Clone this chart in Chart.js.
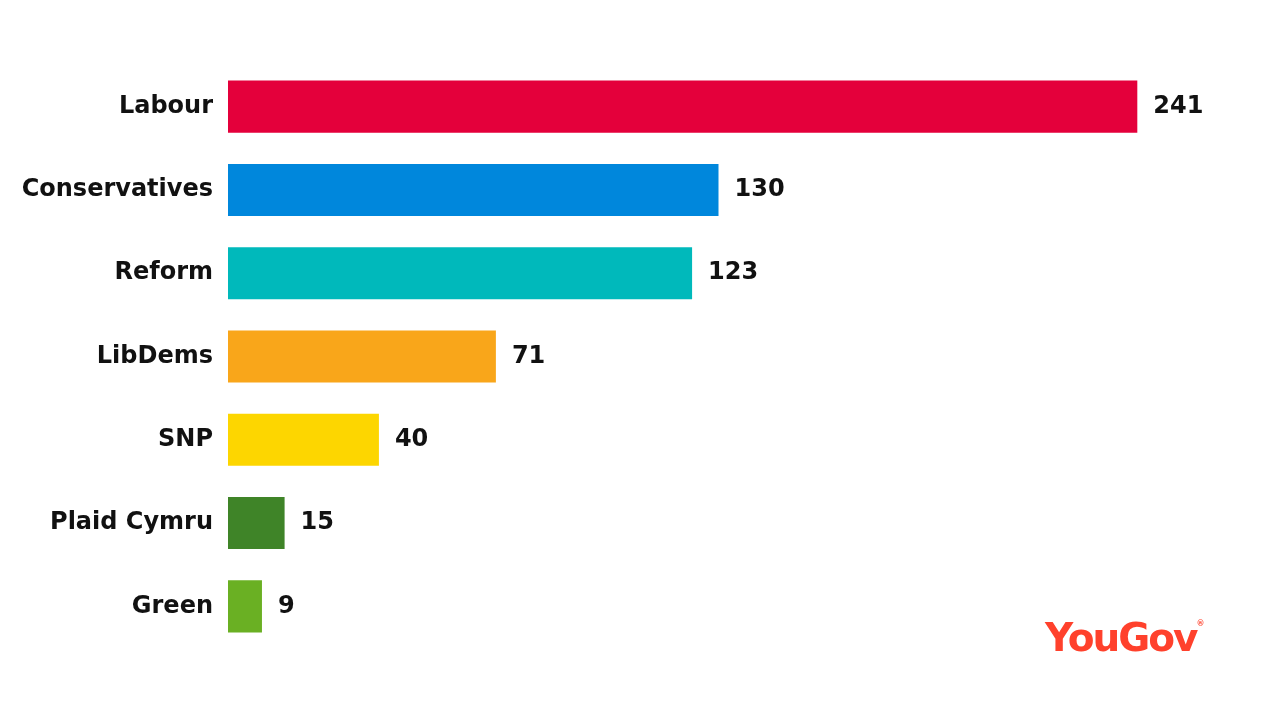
<!DOCTYPE html>
<html>
<head>
<meta charset="utf-8">
<script src="https://cdn.jsdelivr.net/npm/chart.js@4"></script>
<style>
  body { margin: 0; background: #fff; }
  #wrap { position: relative; width: 1280px; height: 720px; }
  #logo { position: absolute; left: 1045px; top: 615px; font: bold 39px "DejaVu Sans", sans-serif; color: #ff412c; letter-spacing: -2px; }
  #logo sup { font-size: 8px; vertical-align: top; position: relative; top: 4px; letter-spacing: 0; }
</style>
</head>
<body>
<div id="wrap">
  <canvas id="chart" width="1280" height="720"></canvas>
  <div id="logo">YouGov<sup>®</sup></div>
</div>
<script>
const parties = ["Labour", "Conservatives", "Reform", "LibDems", "SNP", "Plaid Cymru", "Green"];
const seats = [241, 130, 123, 71, 40, 15, 9];
const colours = ["#e4003b", "#0087dc", "#00b9bb", "#f9a61a", "#fdd600", "#3f8428", "#6ab023"];

const valueLabels = {
    id: "valueLabels",
    afterDatasetsDraw(chart) {
        const ctx = chart.ctx;
        const meta = chart.getDatasetMeta(0);
        ctx.save();
        ctx.font = "bold 24px 'DejaVu Sans'";
        ctx.fillStyle = "#111";
        ctx.textBaseline = "middle";
        meta.data.forEach((bar, i) => {
            ctx.fillText(seats[i], bar.x + 16, bar.y);
        });
        ctx.restore();
    }
};

new Chart(document.getElementById("chart"), {
    type: "bar",
    data: {
        labels: parties,
        datasets: [{ data: seats, backgroundColor: colours, barPercentage: 0.625, categoryPercentage: 1 }]
    },
    options: {
        indexAxis: "y",
        responsive: false,
        animation: false,
        layout: { padding: { top: 65, bottom: 72, left: 0, right: 71 } },
        plugins: { legend: { display: false }, tooltip: { enabled: false } },
        scales: {
            x: { min: 0, max: 260, display: false },
            y: {
                grid: { display: false },
                border: { display: false },
                afterFit(scale) { scale.width = 228; },
                ticks: { padding: 7, color: "#111", font: { family: "DejaVu Sans", size: 24, weight: "bold" } }
            }
        }
    },
    plugins: [valueLabels]
});
</script>
</body>
</html>
